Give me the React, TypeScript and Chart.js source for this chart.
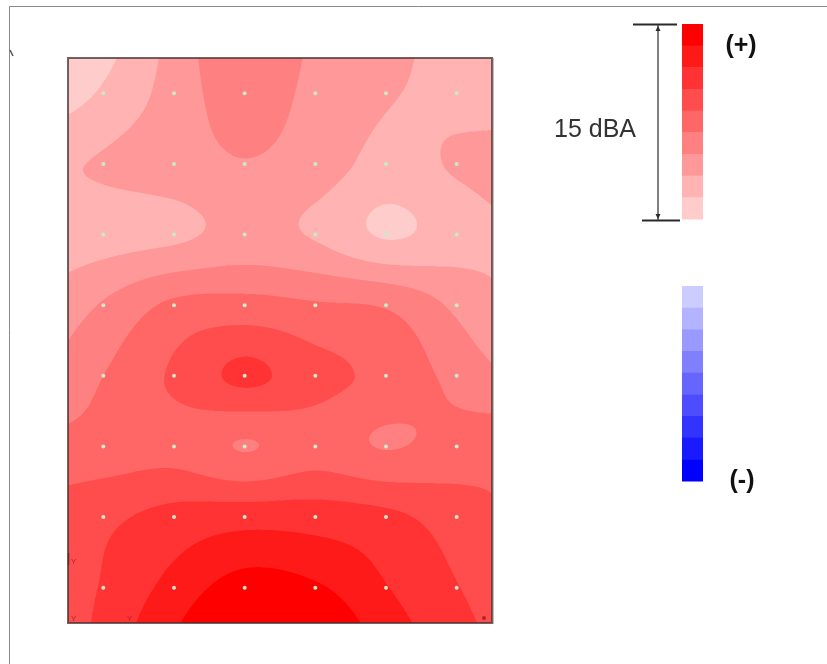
import React, { useEffect, useRef } from "react";
import { Chart, registerables } from "chart.js";

Chart.register(...registerables);

// Measurement grid (column / row indices of the microphone positions)
const COLS = [1, 2, 3, 4, 5, 6];
const ROWS = [1, 2, 3, 4, 5, 6, 7, 8];

// Sound level at each grid point, in contour-band units (band k covers [k, k+1))
const row1 = [2.15, 3.4, 4.6, 3.7, 3.1, 2.7];
const row2 = [3.1, 3.5, 3.95, 3.5, 2.7, 3.1];
const row3 = [2.6, 2.8, 3.3, 2.9, 1.9, 2.5];
const row4 = [4.1, 5.2, 5.35, 5.1, 4.9, 3.8];
const row5 = [5.0, 6.15, 7.2, 6.35, 5.7, 4.7];
const row6 = [5.4, 5.6, 4.95, 5.5, 4.95, 5.4];
const row7 = [6.75, 7.35, 7.6, 7.55, 7.25, 6.5];
const row8 = [7.1, 8.35, 9.5, 9.15, 8.05, 7.05];

// Contour bands (lightest to darkest) and legend text
const BANDS = [1, 2, 3, 4, 5, 6, 7, 8, 9];
const RANGE_LABEL = "15 dBA";
const PLUS_LABEL = "(+)";
const MINUS_LABEL = "(-)";

const GRID = [row1, row2, row3, row4, row5, row6, row7, row8];

function redFor(k: number): [number, number, number] {
  const idx = Math.max(0, Math.min(BANDS.length - 1, k - 1));
  const gb = Math.round(204 - 25.5 * idx);
  return [255, gb, gb];
}
function blueFor(k: number): [number, number, number] {
  const idx = Math.max(0, Math.min(BANDS.length - 1, k - 1));
  const rg = Math.round(204 - 25.5 * idx);
  return [rg, rg, 255];
}

// extended grid with linear extrapolation (2 ghost cells each side)
function buildExt(): number[][] {
  const n = GRID.length;
  const m = GRID[0].length;
  const val = (i: number, j: number): number => {
    if (j < 0) return val(i, 0) + j * (val(i, 1) - val(i, 0));
    if (j > m - 1) return val(i, m - 1) + (j - (m - 1)) * (val(i, m - 1) - val(i, m - 2));
    if (i < 0) return val(0, j) + i * (val(1, j) - val(0, j));
    if (i > n - 1) return val(n - 1, j) + (i - (n - 1)) * (val(n - 1, j) - val(n - 2, j));
    return GRID[i][j];
  };
  const ext: number[][] = [];
  for (let i = -2; i < n + 2; i++) {
    const r: number[] = [];
    for (let j = -2; j < m + 2; j++) r.push(val(i, j));
    ext.push(r);
  }
  return ext;
}

function cr(p0: number, p1: number, p2: number, p3: number, t: number) {
  return (
    0.5 *
    (2 * p1 +
      (-p0 + p2) * t +
      (2 * p0 - 5 * p1 + 4 * p2 - p3) * t * t +
      (-p0 + 3 * p1 - 3 * p2 + p3) * t * t * t)
  );
}

function interp(ext: number[][], fx: number, fy: number) {
  const n = GRID.length;
  const m = GRID[0].length;
  let i0 = Math.floor(fy);
  let j0 = Math.floor(fx);
  i0 = Math.max(-1, Math.min(n - 1, i0));
  j0 = Math.max(-1, Math.min(m - 1, j0));
  const ty = fy - i0;
  const tx = fx - j0;
  const col: number[] = [];
  for (let a = -1; a <= 2; a++) {
    const r = ext[i0 + a + 2];
    col.push(cr(r[j0 - 1 + 2], r[j0 + 2], r[j0 + 1 + 2], r[j0 + 2 + 2], tx));
  }
  return cr(col[0], col[1], col[2], col[3], ty);
}

const contourPlugin = {
  id: "contourField",
  beforeDatasetsDraw(chart: any) {
    const { ctx, chartArea: a, scales } = chart;
    const ext = buildExt();
    const w = Math.round(a.right - a.left);
    const h = Math.round(a.bottom - a.top);
    const S = 2;
    const off = document.createElement("canvas");
    off.width = w * S;
    off.height = h * S;
    const octx = off.getContext("2d")!;
    const img = octx.createImageData(w * S, h * S);
    const xs: number[] = [];
    for (let px = 0; px < w * S; px++) xs.push(scales.x.getValueForPixel(a.left + (px + 0.5) / S) - COLS[0]);
    for (let py = 0; py < h * S; py++) {
      const fy = scales.y.getValueForPixel(a.top + (py + 0.5) / S) - ROWS[0];
      for (let px = 0; px < w * S; px++) {
        const v = interp(ext, xs[px], fy);
        const k = Math.max(BANDS[0], Math.min(BANDS[BANDS.length - 1], Math.floor(v)));
        const c = redFor(k);
        const o = (py * w * S + px) * 4;
        img.data[o] = c[0];
        img.data[o + 1] = c[1];
        img.data[o + 2] = c[2];
        img.data[o + 3] = 255;
      }
    }
    octx.putImageData(img, 0, 0);
    ctx.save();
    ctx.imageSmoothingEnabled = true;
    ctx.drawImage(off, a.left, a.top, w, h);
    ctx.restore();
  },
  afterDatasetsDraw(chart: any) {
    const { ctx, chartArea: a } = chart;
    ctx.save();
    // plot frame
    ctx.strokeStyle = "rgba(70,50,50,0.75)";
    ctx.lineWidth = 2;
    ctx.strokeRect(a.left, a.top, a.right - a.left, a.bottom - a.top);
    ctx.strokeStyle = "rgba(0,0,0,0.25)";
    ctx.lineWidth = 1;
    ctx.beginPath();
    ctx.moveTo(a.right + 1.5, a.top);
    ctx.lineTo(a.right + 1.5, a.bottom + 1);
    ctx.stroke();
    // small axis markers
    ctx.fillStyle = "rgba(150,30,30,0.8)";
    ctx.font = "8px 'Liberation Sans'";
    ctx.textAlign = "left";
    ctx.textBaseline = "middle";
    ctx.fillText("Y", a.left + 3, a.bottom - 61);
    ctx.fillText("Y", a.left + 3, a.bottom - 4);
    ctx.fillText("Y", a.left + 59, a.bottom - 4);
    ctx.beginPath();
    ctx.arc(a.right - 8, a.bottom - 5, 2, 0, Math.PI * 2);
    ctx.fill();
    ctx.strokeStyle = "rgba(90,40,40,0.8)";
    ctx.lineWidth = 1.5;
    ctx.beginPath();
    ctx.moveTo(a.left + 0.5, a.bottom - 70);
    ctx.lineTo(a.left + 0.5, a.bottom - 58);
    ctx.stroke();
    ctx.restore();
  },
  afterDraw(chart: any) {
    const { ctx } = chart;
    ctx.save();
    // outer frame
    ctx.strokeStyle = "#8a8a8a";
    ctx.lineWidth = 1;
    ctx.beginPath();
    ctx.moveTo(9.5, 664);
    ctx.lineTo(9.5, 6.5);
    ctx.lineTo(827, 6.5);
    ctx.stroke();
    ctx.strokeStyle = "#555";
    ctx.lineWidth = 1.5;
    ctx.beginPath();
    ctx.moveTo(10, 50);
    ctx.lineTo(13, 56);
    ctx.stroke();

    // colour bars
    const barX = 682;
    const barW = 21;
    const redTop = 24;
    const blueTop = 286;
    const segH = 195 / BANDS.length;
    BANDS.forEach((k, i) => {
      const rc = redFor(BANDS.length - i);
      ctx.fillStyle = `rgb(${rc[0]},${rc[1]},${rc[2]})`;
      ctx.fillRect(barX, redTop + i * segH, barW, segH + 0.5);
      const bc = blueFor(k);
      ctx.fillStyle = `rgb(${bc[0]},${bc[1]},${bc[2]})`;
      ctx.fillRect(barX, blueTop + i * segH, barW, segH + 0.5);
    });

    // range bracket
    ctx.strokeStyle = "#2a2a2a";
    ctx.fillStyle = "#2a2a2a";
    ctx.lineWidth = 2;
    ctx.beginPath();
    ctx.moveTo(633, 24.5);
    ctx.lineTo(677, 24.5);
    ctx.moveTo(642, 220.5);
    ctx.lineTo(680, 220.5);
    ctx.stroke();
    ctx.lineWidth = 1.2;
    ctx.beginPath();
    ctx.moveTo(658, 25);
    ctx.lineTo(658, 220);
    ctx.stroke();
    ctx.beginPath();
    ctx.moveTo(658, 26);
    ctx.lineTo(655.5, 31);
    ctx.lineTo(660.5, 31);
    ctx.closePath();
    ctx.fill();
    ctx.beginPath();
    ctx.moveTo(658, 219);
    ctx.lineTo(655.5, 214);
    ctx.lineTo(660.5, 214);
    ctx.closePath();
    ctx.fill();

    // labels
    ctx.fillStyle = "#333";
    ctx.font = "25px 'Liberation Sans'";
    ctx.textAlign = "center";
    ctx.textBaseline = "middle";
    ctx.fillText(RANGE_LABEL, 595, 130);
    ctx.fillStyle = "#111";
    ctx.font = "bold 25px 'Liberation Sans'";
    ctx.fillText(PLUS_LABEL, 741, 46);
    ctx.fillText(MINUS_LABEL, 742, 481);
    ctx.restore();
  },
};

export default function App() {
  const ref = useRef<HTMLCanvasElement | null>(null);
  useEffect(() => {
    if (!ref.current) return;
    const points: { x: number; y: number }[] = [];
    ROWS.forEach((r) => COLS.forEach((c) => points.push({ x: c, y: r })));
    const chart = new Chart(ref.current, {
      type: "scatter",
      data: {
        datasets: [
          {
            data: points,
            pointRadius: 2,
            pointBackgroundColor: "#c8eac8",
            pointBorderWidth: 0,
          },
        ],
      },
      options: {
        responsive: false,
        animation: false,
        devicePixelRatio: 1,
        layout: { padding: { left: 68, top: 58, right: 335, bottom: 41 } },
        scales: {
          x: { type: "linear", min: 0.5, max: 6.5, display: false },
          y: { type: "linear", min: 0.5, max: 8.5, reverse: true, display: false },
        },
        plugins: { legend: { display: false }, tooltip: { enabled: false } },
      },
      plugins: [contourPlugin],
    });
    return () => chart.destroy();
  }, []);
  return (
    <canvas
      ref={ref}
      width={827}
      height={664}
      style={{ position: "absolute", left: 0, top: 0, width: 827, height: 664 }}
    />
  );
}
